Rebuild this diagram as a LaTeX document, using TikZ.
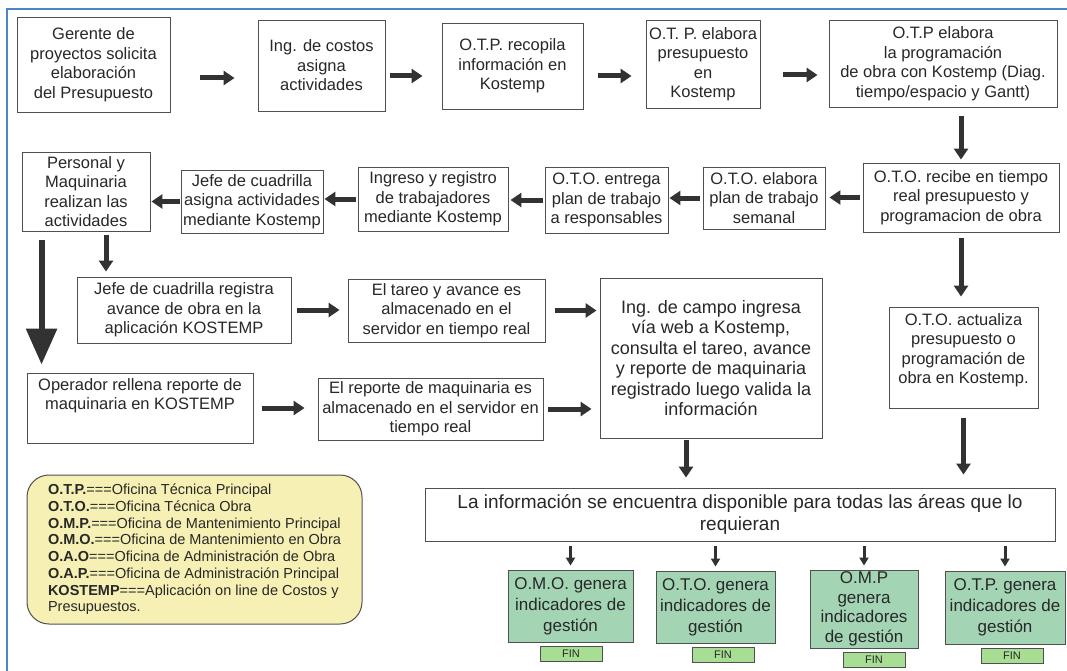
\documentclass[tikz,border=0pt]{standalone}
\usepackage{fontspec}
\setmainfont{Liberation Sans}
\usetikzlibrary{arrows.meta}

\definecolor{marco}{RGB}{74,134,200}
\definecolor{borde}{RGB}{80,80,80}
\definecolor{tinta}{RGB}{40,40,40}
\definecolor{flechagris}{RGB}{50,50,50}
\definecolor{amarillo}{RGB}{246,240,180}
\definecolor{verde}{RGB}{163,213,181}
\definecolor{verdefin}{RGB}{168,222,148}

\tikzset{
  texto/.style={align=center, text=tinta, font=\fontsize{16.5}{19.5}\selectfont},
  caja/.style={texto, draw=borde, line width=0.9pt, fill=white, inner sep=2pt},
  cajaverde/.style={caja, fill=verde, font=\fontsize{17}{21}\selectfont},
  fin/.style={draw=borde, line width=0.8pt, fill=verdefin, text=tinta,
    font=\fontsize{11}{11}\selectfont, minimum width=62pt, minimum height=15pt, inner sep=0pt},
  leyenda/.style={draw=borde, line width=1pt, fill=amarillo, rounded corners=22pt,
    minimum width=335pt, minimum height=149pt, align=left, text=tinta,
    font=\fontsize{14.5}{16.7}\selectfont},
  flecha/.style={draw=flechagris, line width=5pt, -{Triangle[length=11pt,width=14pt]}},
  flechagrande/.style={draw=flechagris, line width=6pt, -{Triangle[length=36pt,width=30pt]}},
  flechita/.style={draw=flechagris, line width=3pt, -{Triangle[length=8pt,width=9pt]}}
}

\begin{document}
\begin{tikzpicture}[x=1pt,y=-1pt]
    \useasboundingbox (0,0) rectangle (1067,671);
    % marco
    \draw[marco, line width=1.5pt] (7,671) -- (7,9) -- (1067,9);

    % fila superior
    \node[caja, minimum width=153pt, minimum height=95pt] (gerente) at (93.5,64.5)
        {Gerente de\\proyectos solicita\\elaboración\\del Presupuesto};
    \node[caja, minimum width=127pt, minimum height=91pt] (costos) at (321.5,65.5)
        {Ing. de costos\\asigna\\actividades};
    \node[caja, minimum width=141pt, minimum height=86pt] (recopila) at (512.5,66)
        {O.T.P. recopila\\información en\\Kostemp};
    \node[caja, minimum width=114pt, minimum height=88pt] (presup) at (703,64)
        {O.T. P. elabora\\presupuesto\\en\\Kostemp};
    \node[caja, minimum width=228pt, minimum height=87pt] (program) at (943,63.5)
        {O.T.P elabora\\la programación\\de obra con Kostemp (Diag.\\tiempo/espacio y Gantt)};

    % segunda fila
    \node[caja, minimum width=196pt, minimum height=69pt] (recibe) at (961,197.5)
        {O.T.O. recibe en tiempo\\real presupuesto y\\programacion de obra};
    \node[caja, minimum width=122pt, minimum height=62pt] (plan) at (764,198)
        {O.T.O. elabora\\plan de trabajo\\semanal};
    \node[caja, minimum width=123pt, minimum height=66pt] (entrega) at (606.5,200)
        {O.T.O. entrega\\plan de trabajo\\a responsables};
    \node[caja, minimum width=150pt, minimum height=64pt] (ingreso) at (433,199)
        {Ingreso y registro\\de trabajadores\\mediante Kostemp};
    \node[caja, minimum width=142pt, minimum height=63pt, inner sep=1pt] (asigna) at (252,201.5)
        {Jefe de cuadrilla\\asigna actividades\\mediante Kostemp};
    \node[caja, minimum width=128pt, minimum height=79pt] (personal) at (86,191.5)
        {Personal y\\Maquinaria\\realizan las\\actividades};

    % tercera fila
    \node[caja, minimum width=214pt, minimum height=66pt] (registra) at (184,310)
        {Jefe de cuadrilla registra\\avance de obra en la\\aplicación KOSTEMP};
    \node[caja, minimum width=197pt, minimum height=63pt] (tareo) at (446.5,310.5)
        {El tareo y avance es\\almacenado en el\\servidor en tiempo real};
    \node[caja, minimum width=222pt, minimum height=160pt, font=\fontsize{18}{20.5}\selectfont] (campo) at (711,358)
        {Ing. de campo ingresa\\vía web a Kostemp,\\consulta el tareo, avance\\y reporte de maquinaria\\registrado luego valida la\\información};
    \node[caja, minimum width=149pt, minimum height=101pt,
        label={[texto, anchor=north, yshift=-3pt]north:{O.T.O. actualiza\\presupuesto o\\programación de\\obra en Kostemp.}}]
        (actualiza) at (963.5,357.5) {};

    % cuarta fila
    \node[caja, minimum width=226pt, minimum height=70pt,
        label={[texto, anchor=north, yshift=-2pt]north:{Operador rellena reporte de\\maquinaria en KOSTEMP}}]
        (operador) at (140,408) {};
    \node[caja, minimum width=225pt, minimum height=62pt] (reporte) at (430.5,409)
        {El reporte de maquinaria es\\almacenado en el servidor en\\tiempo real};

    % leyenda
    \node[leyenda] (ley) at (194.5,549.5)
        {\textbf{O.T.P.}===Oficina Técnica Principal\\
         \textbf{O.T.O.}===Oficina Técnica Obra\\
         \textbf{O.M.P.}===Oficina de Mantenimiento Principal\\
         \textbf{O.M.O.}===Oficina de Mantenimiento en Obra\\
         \textbf{O.A.O}===Oficina de Administración de Obra\\
         \textbf{O.A.P.}===Oficina de Administración Principal\\
         \textbf{KOSTEMP}===Aplicación on line de Costos y\\
         Presupuestos.};

    % informacion disponible
    \node[caja, minimum width=630pt, minimum height=53pt, font=\fontsize{19}{22}\selectfont] (info) at (740,514.5)
        {La información se encuentra disponible para todas las áreas que lo\\requieran};

    % indicadores
    \node[cajaverde, minimum width=125pt, minimum height=72pt] (omo) at (570.5,606)
        {O.M.O. genera\\indicadores de\\gestión};
    \node[cajaverde, minimum width=119pt, minimum height=72pt] (oto) at (715.5,607)
        {O.T.O. genera\\indicadores de\\gestión};
    \node[cajaverde, minimum width=108pt, minimum height=78pt, font=\fontsize{17}{19.5}\selectfont] (omp) at (864,609)
        {O.M.P\\genera\\indicadores\\de gestión};
    \node[cajaverde, minimum width=120pt, minimum height=73pt] (otp) at (1005,607.5)
        {O.T.P. genera\\indicadores de\\gestión};
    \node[fin] (fin1) at (571,653.5) {FIN};
    \node[fin] (fin2) at (723,654.5) {FIN};
    \node[fin] (fin3) at (874,659.5) {FIN};
    \node[fin] (fin4) at (1012,655.5) {FIN};

    % flechas
    \draw[flecha, shorten <=30pt, shorten >=23pt] ([yshift=-13.5pt]gerente.east) -- ([yshift=-13.5pt]gerente.east -| costos.west);
    \draw[flecha, shorten <=5pt, shorten >=19pt] ([yshift=-10.5pt]costos.east) -- ([yshift=-10.5pt]costos.east -| recopila.west);
    \draw[flecha, shorten <=15pt, shorten >=14pt] ([yshift=-10pt]recopila.east) -- ([yshift=-10pt]recopila.east -| presup.west);
    \draw[flecha, shorten <=23pt, shorten >=11pt] ([yshift=-11pt]presup.east) -- ([yshift=-11pt]presup.east -| program.west);
    \draw[flecha, shorten <=9pt, shorten >=3pt] (program.south -| recibe.north) -- (recibe.north);
    \draw[flecha, shorten <=3pt, shorten >=4pt] (recibe.west) -- (recibe.west -| plan.east);
    \draw[flecha, shorten <=3pt, shorten >=1pt] (plan.west) -- (plan.west -| entrega.east);
    \draw[flecha, shorten <=2pt, shorten >=2pt] (entrega.west) -- (entrega.west -| ingreso.east);
    \draw[flecha, shorten <=2pt, shorten >=1pt] (ingreso.west) -- (ingreso.west -| asigna.east);
    \draw[flecha, shorten <=1pt, shorten >=1pt] (asigna.west) -- (asigna.west -| personal.east);
    \draw[flecha, shorten <=4pt, shorten >=5pt] ([xshift=20pt]personal.south) -- ([xshift=20pt]personal.south |- registra.north);
    \draw[flechagrande, shorten <=9pt, shorten >=8pt] ([xshift=20pt]personal.south west) -- ([xshift=20pt]personal.south west |- operador.north);
    \draw[flecha, shorten <=6pt, shorten >=8pt] (registra.east) -- (registra.east -| tareo.west);
    \draw[flecha, shorten <=10pt, shorten >=3pt] (tareo.east) -- (tareo.east -| campo.west);
    \draw[flecha, shorten <=9pt, shorten >=13pt] (operador.east) -- (operador.east -| reporte.west);
    \draw[flecha, shorten <=5pt, shorten >=8pt] (reporte.east) -- (reporte.east -| campo.west);
    \draw[flecha, shorten <=6pt, shorten >=10pt] (recibe.south) -- (recibe.south |- actualiza.north);
    \draw[flecha, shorten <=10pt, shorten >=13pt] (actualiza.south) -- (actualiza.south |- info.north);
    \draw[flecha, shorten <=2pt, shorten >=10pt] ([xshift=-25pt]campo.south) -- ([xshift=-25pt]campo.south |- info.north);
    \foreach \ind in {omo,oto,omp,otp}
        \draw[flechita, shorten <=5pt, shorten >=4pt] (\ind.north |- info.south) -- (\ind.north);
\end{tikzpicture}
\end{document}
